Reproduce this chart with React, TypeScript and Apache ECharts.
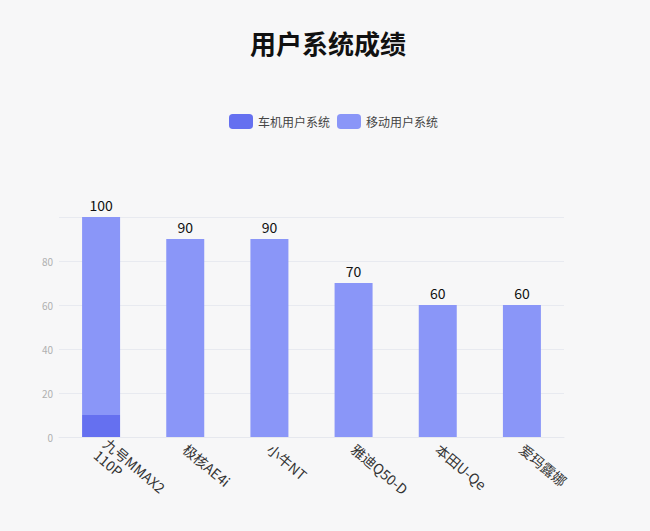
import React, { useEffect, useRef } from "react";
import * as echarts from "echarts";

const categories = ["九号MMAX2\n110P", "极核AE4i", "小牛NT", "雅迪Q50-D", "本田U-Qe", "爱玛露娜"];
const carSystem = [10, 0, 0, 0, 0, 0];
const mobileSystem = [90, 90, 90, 70, 60, 60];
const seriesNames = ["车机用户系统", "移动用户系统"];

const FONT = "'Noto Sans CJK SC', 'Noto Sans', sans-serif";

export default function App() {
  const ref = useRef<HTMLDivElement>(null);
  useEffect(() => {
    if (!ref.current) return;
    const chart = echarts.init(ref.current, null, { renderer: "svg" });
    const totals = categories.map((_, i) => carSystem[i] + mobileSystem[i]);
    chart.setOption({
      animation: false,
      backgroundColor: "#f7f7f8",
      textStyle: { fontFamily: FONT },
      title: {
        text: "用户系统成绩",
        left: 245,
        top: 24,
        textStyle: { fontSize: 26, fontWeight: "bold", color: "#111", fontFamily: FONT },
      },
      legend: {
        top: 109,
        left: 224,
        itemWidth: 24,
        itemHeight: 15,
        itemGap: 7,
        icon: "roundRect",
        textStyle: { fontSize: 12, color: "#444", fontFamily: FONT },
        data: seriesNames,
      },
      grid: { left: 59, right: 86, top: 217, bottom: 94, containLabel: false },
      xAxis: {
        type: "category",
        data: categories,
        axisTick: { show: false },
        axisLine: { lineStyle: { color: "#e6e8ee" } },
        axisLabel: {
          rotate: -40,
          fontSize: 14,
          color: "#333",
          margin: 10,
          lineHeight: 15,
          fontFamily: FONT,
        },
      },
      yAxis: {
        type: "value",
        min: 0,
        max: 100,
        interval: 20,
        axisLine: { show: false },
        axisTick: { show: false },
        axisLabel: { fontSize: 10, color: "#b0b0b0", showMaxLabel: false, margin: 6 },
        splitLine: { lineStyle: { color: "#e8eaf0" } },
      },
      series: [
        {
          name: seriesNames[0],
          type: "bar",
          stack: "total",
          barWidth: 38,
          data: carSystem,
          itemStyle: { color: "#6570f0" },
        },
        {
          name: seriesNames[1],
          type: "bar",
          stack: "total",
          barWidth: 38,
          data: mobileSystem,
          itemStyle: { color: "#8a96f8" },
          label: {
            show: true,
            position: "top",
            fontSize: 14,
            color: "#111",
            fontFamily: FONT,
            formatter: (p: any) => String(totals[p.dataIndex]),
          },
        },
      ],
    });
    return () => chart.dispose();
  }, []);
  return (
    <div
      ref={ref}
      style={{ position: "fixed", left: 0, top: 0, width: 650, height: 531 }}
    />
  );
}
